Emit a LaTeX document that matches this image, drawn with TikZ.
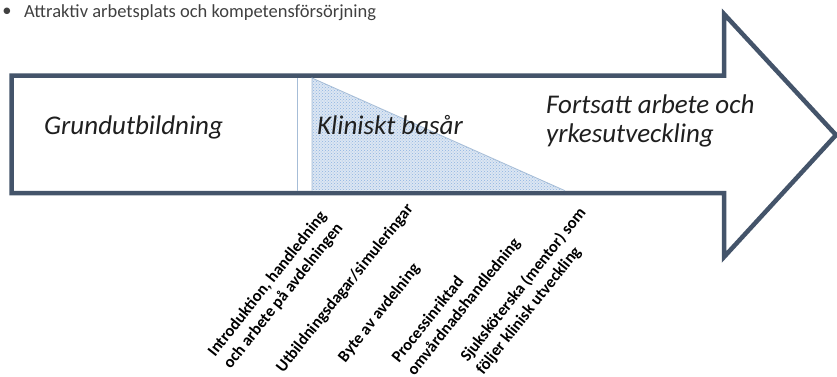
\documentclass[tikz,border=0pt]{standalone}
\usepackage{fontspec}
\setmainfont{Carlito}
\usetikzlibrary{patterns}
\definecolor{arrowline}{HTML}{44546A}
\definecolor{basfill}{HTML}{DCE6F2}
\definecolor{basdots}{HTML}{8DB3E2}
\definecolor{sepline}{HTML}{A6BDD7}
\definecolor{goaltext}{HTML}{404040}
\tikzset{
  phase/.style={font=\fontsize{27}{29}\selectfont\itshape, text=black!88, inner sep=0pt},
  event/.style={font=\fontsize{16.5}{20}\selectfont\bfseries, inner sep=0pt, anchor=west, rotate=51.5, align=left},
  goal/.style={font=\fontsize{18.5}{22}\selectfont, text=goaltext, inner sep=0pt},
}

\begin{document}
\begin{tikzpicture}[x=1pt,y=-1pt]
			%%%%% FRAME %%%%%
			\useasboundingbox (0,0) rectangle (837,377);
			
			%%%%% ARROW %%%%%
			\draw[line width=4.5pt, arrowline, fill=white] (11.7, 75.7) -- (724, 75.7) -- (724, 14) -- (836, 135) -- (724, 257) -- (724, 193) -- (11.7, 193) -- cycle;
			
			\draw[sepline, line width=1pt] (297, 78) -- (297, 190.7);
			\fill[basfill] (312, 78) -- (312, 190.7) -- (565, 190.7) -- cycle;
			\fill[pattern=crosshatch dots, pattern color=basdots] (312, 78) -- (312, 190.7) -- (565, 190.7) -- cycle;
			\draw[sepline, line width=0.8pt] (565, 190.7) -- (312, 78) -- (312, 190.7);
			
			%%%%% TEXT %%%%%
			\node[goal] (dot) at (7, 12) {•};
			\node[goal, anchor=base west] (goal) at (24, 17.5) {Attraktiv arbetsplats och kompetensförsörjning};
			
			\node[phase, anchor=base west] (grund) at (44, 134) {Grundutbildning};
			\node[phase, anchor=base west] (basar) at (317, 135) {Kliniskt basår};
			\node[phase, anchor=west, align=left] (fortsatt) at (546, 120.5) {Fortsatt arbete och\\yrkesutveckling};
			
			\node[event] (intro) at (219.3, 361) {Introduktion, handledning\\och arbete på avdelningen};
			\node[event] (utb) at (279.8, 370.5) {Utbildningsdagar/simuleringar};
			\node[event] (byte) at (341.8, 360.5) {Byte av avdelning};
			\node[event] (process) at (403.3, 367.5) {Processinriktad\\omvårdnadshandledning};
			\node[event] (mentor) at (471.8, 366) {Sjuksköterska (mentor) som\\följer klinisk utveckling};
			
		\end{tikzpicture}
\end{document}
